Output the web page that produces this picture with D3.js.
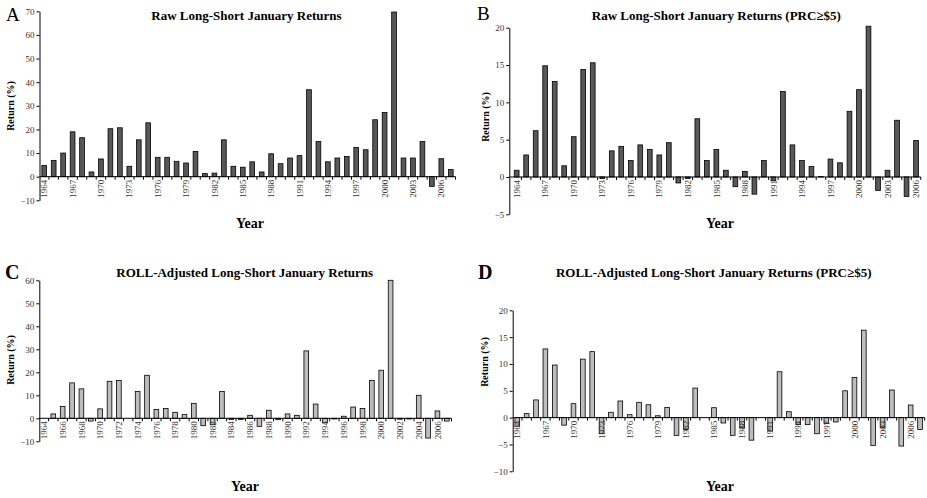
<!DOCTYPE html>
<html>
<head>
<meta charset="utf-8">
<script src="https://cdn.jsdelivr.net/npm/d3@7"></script>
<style>
  body { margin: 0; background: #fff; }
  svg { display: block; }
</style>
</head>
<body>
<script>
// categories
const years = [1964, 1965, 1966, 1967, 1968, 1969, 1970, 1971, 1972, 1973, 1974,
  1975, 1976, 1977, 1978, 1979, 1980, 1981, 1982, 1983, 1984, 1985, 1986, 1987,
  1988, 1989, 1990, 1991, 1992, 1993, 1994, 1995, 1996, 1997, 1998, 1999, 2000,
  2001, 2002, 2003, 2004, 2005, 2006, 2007];
const yearsB = years.slice(0, 43); // panel B stops at 2006

// series (returns in %)
const rawAll = [4.8, 6.9, 10.0, 19.0, 16.5, 2.0, 7.5, 20.3, 20.7, 4.4, 15.6,
  22.8, 8.2, 8.2, 6.5, 5.8, 10.7, 1.3, 1.5, 15.6, 4.4, 4.0, 6.3, 2.0,
  9.7, 5.5, 7.9, 8.9, 36.8, 14.9, 6.3, 7.9, 8.6, 12.4, 11.4, 24.1, 27.2,
  69.7, 7.9, 7.9, 14.9, -4.1, 7.6, 3.0];
const rawPrc5 = [0.9, 2.95, 6.2, 14.9, 12.8, 1.5, 5.4, 14.4, 15.3, -0.2, 3.5,
  4.1, 2.2, 4.3, 3.7, 2.95, 4.6, -0.8, -0.2, 7.8, 2.2, 3.7, 0.9, -1.3,
  0.75, -2.3, 2.2, -0.5, 11.45, 4.3, 2.2, 1.4, 0.05, 2.4, 1.9, 8.8, 11.7,
  20.2, -1.8, 0.9, 7.6, -2.6, 4.9];
const rollAll = [0, 1.9, 5.2, 15.4, 12.8, -1.2, 4.1, 16.1, 16.4, 0, 11.7,
  18.7, 3.8, 4.3, 2.6, 1.6, 6.5, -3.2, -2.8, 11.7, -0.5, -0.5, 1.3, -3.5,
  3.5, -0.6, 1.9, 1.3, 29.3, 6.2, -2.0, -0.3, 0.9, 4.9, 4.3, 16.5, 20.9,
  63.0, -0.4, -0.3, 10.0, -8.6, 3.2, -1.2];
const rollPrc5 = [-1.6, 0.75, 3.3, 12.8, 9.8, -1.4, 2.6, 10.9, 12.3, -3.0, 1.0,
  3.1, 0.55, 2.85, 2.4, 0.35, 1.9, -3.3, -2.2, 5.5, 0, 1.85, -1.0, -3.3,
  -1.9, -4.2, 0, -2.5, 8.55, 1.1, -1.3, -1.3, -3.0, -1.1, -0.8, 5.0, 7.5,
  16.3, -5.2, -1.8, 5.15, -5.3, 2.35, -2.2];

// tick labels
const yearTicks3 = [1964, 1967, 1970, 1973, 1976, 1979, 1982, 1985, 1988, 1991,
  1994, 1997, 2000, 2003, 2006];
const yearTicks2 = [1964, 1966, 1968, 1970, 1972, 1974, 1976, 1978, 1980, 1982,
  1984, 1986, 1988, 1990, 1992, 1994, 1996, 1998, 2000, 2002, 2004, 2006];
const yTicksA = [-10, 0, 10, 20, 30, 40, 50, 60, 70];
const yTicksB = [-5, 0, 5, 10, 15, 20];
const yTicksC = [-10, 0, 10, 20, 30, 40, 50, 60];
const yTicksD = [-10, -5, 0, 5, 10, 15, 20];

const serif = "'Liberation Serif', 'Times New Roman', serif";

const svg = d3.select("body").append("svg")
  .attr("width", 927).attr("height", 498)
  .style("font-family", serif);

const drawPanel = (p) => {
  const g = svg.append("g");

  const x = d3.scaleBand()
    .domain(p.cats)
    .range([p.x0, p.x1])
    .paddingInner(0.5)
    .paddingOuter(0.25);

  const y = d3.scaleLinear()
    .domain([p.yTicks[0], p.yTicks[p.yTicks.length - 1]])
    .range([p.yBottom, p.yTop])
    .clamp(p.clamp || false);

  // bars
  g.append("g")
    .selectAll("rect")
    .data(p.values)
    .enter()
    .append("rect")
    .attr("x", (d, i) => x(p.cats[i]))
    .attr("y", d => Math.min(y(d), y(0)))
    .attr("width", x.bandwidth())
    .attr("height", d => Math.abs(y(d) - y(0)))
    .attr("fill", p.fill)
    .attr("stroke", "#000")
    .attr("stroke-width", 0.8);

  // y axis
  const ya = g.append("g")
    .attr("transform", "translate(" + p.axisX + ",0)")
    .call(d3.axisLeft(y).tickValues(p.yTicks).tickSize(3).tickSizeOuter(0).tickPadding(2));
  ya.selectAll("text").attr("font-family", serif).attr("font-size", "9px").attr("fill", "#333");
  ya.selectAll("line, path").attr("stroke", "#000");

  // x axis at zero
  const xa = g.append("g")
    .attr("transform", "translate(0," + y(0) + ")")
    .call(d3.axisBottom(x).tickValues(p.labels).tickSize(0).tickSizeOuter(0));
  xa.select(".domain").remove();
  xa.selectAll("text")
    .attr("font-family", serif)
    .attr("font-size", "9px")
    .attr("fill", "#333")
    .attr("transform", "rotate(-90)")
    .attr("text-anchor", "end")
    .attr("x", -3)
    .attr("y", 0)
    .attr("dy", "0.35em");

  g.append("line")
    .attr("x1", p.axisX).attr("x2", p.x1)
    .attr("y1", y(0)).attr("y2", y(0))
    .attr("stroke", "#000");

  // category boundary ticks
  const step = x.step();
  g.append("g")
    .selectAll("line")
    .data(p.cats)
    .enter()
    .append("line")
    .attr("x1", d => x(d) + x.bandwidth() + step * 0.25)
    .attr("x2", d => x(d) + x.bandwidth() + step * 0.25)
    .attr("y1", y(0)).attr("y2", y(0) + 3)
    .attr("stroke", "#000");

  // titles and labels
  svg.append("text")
    .attr("x", p.titleX).attr("y", p.titleY)
    .attr("text-anchor", "middle")
    .attr("font-weight", "bold")
    .attr("font-size", "13px")
    .text(p.title);

  svg.append("text")
    .attr("x", p.letterX).attr("y", p.letterY)
    .attr("font-weight", p.letterBold ? "bold" : "normal")
    .attr("font-size", p.letterBold ? "20px" : "19px")
    .text(p.letter);

  svg.append("text")
    .attr("x", p.yearX).attr("y", p.yearY)
    .attr("text-anchor", "middle")
    .attr("font-weight", "bold")
    .attr("font-size", "14px")
    .text("Year");

  svg.append("text")
    .attr("transform", "translate(" + p.retX + "," + p.retY + ") rotate(-90)")
    .attr("text-anchor", "middle")
    .attr("font-weight", "bold")
    .attr("font-size", "10px")
    .text("Return (%)");
};

drawPanel({
  cats: years, values: rawAll, labels: yearTicks3, yTicks: yTicksA,
  x0: 39.5, x1: 455.5, axisX: 39.5, yTop: 11.3, yBottom: 200.3,
  fill: "#585858",
  title: "Raw Long-Short January Returns", titleX: 246.5, titleY: 19.5,
  letter: "A", letterX: 6, letterY: 20.5, letterBold: false,
  yearX: 250, yearY: 228, retX: 14, retY: 106
});

drawPanel({
  cats: yearsB, values: rawPrc5, labels: yearTicks3, yTicks: yTicksB,
  x0: 511.9, x1: 920.8, axisX: 509.3, yTop: 27.7, yBottom: 214.3,
  fill: "#585858",
  title: "Raw Long-Short January Returns (PRC\u2265$5)", titleX: 716.3, titleY: 19.5,
  letter: "B", letterX: 477, letterY: 19.5, letterBold: false,
  yearX: 720, yearY: 228, retX: 489, retY: 117
});

drawPanel({
  cats: years, values: rollAll, labels: yearTicks2, yTicks: yTicksC,
  x0: 39.25, x1: 451.5, axisX: 39.3, yTop: 280.3, yBottom: 441.3, clamp: true,
  fill: "#bdbdbd",
  title: "ROLL-Adjusted Long-Short January Returns", titleX: 244.7, titleY: 276.5,
  letter: "C", letterX: 5, letterY: 279.3, letterBold: true,
  yearX: 245, yearY: 491, retX: 14, retY: 360
});

drawPanel({
  cats: years, values: rollPrc5, labels: yearTicks3, yTicks: yTicksD,
  x0: 512.6, x1: 924.7, axisX: 512.7, yTop: 310.3, yBottom: 471.3,
  fill: "#bdbdbd",
  title: "ROLL-Adjusted Long-Short January Returns (PRC\u2265$5)", titleX: 713.7, titleY: 276.5,
  letter: "D", letterX: 478, letterY: 279.3, letterBold: true,
  yearX: 720, yearY: 491, retX: 488, retY: 362
});
</script>
</body>
</html>
